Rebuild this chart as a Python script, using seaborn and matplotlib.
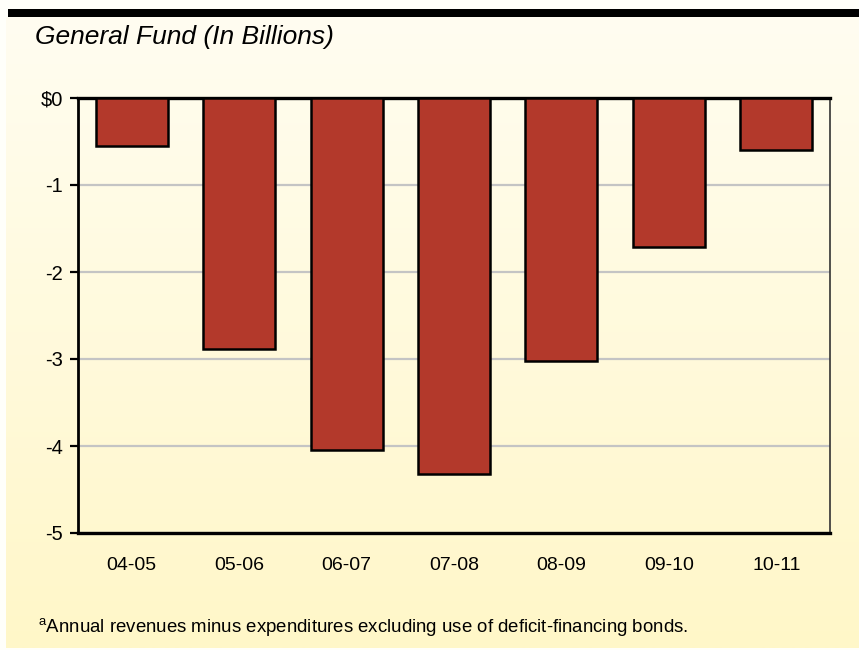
import numpy as np
import pandas as pd
import matplotlib
matplotlib.use("Agg")
import matplotlib.pyplot as plt
import seaborn as sns
from matplotlib.colors import LinearSegmentedColormap

years = ["04-05", "05-06", "06-07", "07-08", "08-09", "09-10", "10-11"]
balance = [-0.55, -2.89, -4.05, -4.32, -3.02, -1.71, -0.60]
ytick_values = [0, -1, -2, -3, -4, -5]
ytick_labels = ["$0", "-1", "-2", "-3", "-4", "-5"]

df = pd.DataFrame({"year": years, "balance": balance})

sns.set_theme(style="white")
plt.rcParams["font.family"] = ["Liberation Sans", "DejaVu Sans"]
plt.rcParams["text.color"] = "black"
plt.rcParams["xtick.color"] = "black"
plt.rcParams["ytick.color"] = "black"
plt.rcParams["xtick.labelcolor"] = "black"
plt.rcParams["ytick.labelcolor"] = "black"

W, H = 859, 650
fig = plt.figure(figsize=(W / 100, H / 100), dpi=100)
fig.patch.set_facecolor("#fffffa")

# pale yellow gradient panel behind everything
bg = fig.add_axes([6 / W, 2 / H, (W - 6) / W, (648 - 17) / H], zorder=0)
cmap = LinearSegmentedColormap.from_list("panel", ["#fffdf1", "#fff7c8"])
bg.imshow(np.linspace(0, 1, 256).reshape(-1, 1), aspect="auto", cmap=cmap,
          extent=[0, 1, 0, 1], origin="upper")
bg.set_axis_off()

# heavy rule across the top
fig.add_artist(plt.Rectangle((8 / W, 1 - 17 / H), 1 - 8 / W, 8 / H,
                             transform=fig.transFigure, color="black", lw=0))

ax = fig.add_axes([78 / W, 1 - 533 / H, (830 - 78) / W, (533 - 98) / H], zorder=1)
ax.set_facecolor("none")
sns.barplot(data=df, x="year", y="balance", color="#b3392b", saturation=1,
            edgecolor="black", linewidth=1.8, width=0.67, ax=ax, zorder=3)

ax.set_ylim(-5, 0)
ax.set_yticks(ytick_values)
ax.set_yticklabels(ytick_labels)
ax.yaxis.grid(True, color="#c4c4c4", linewidth=1.6, zorder=0)
ax.set_axisbelow(True)
ax.set_xlabel("")
ax.set_ylabel("")

ax.tick_params(axis="y", direction="out", length=6, width=1.6, color="black",
               labelcolor="black", labelsize=14.5, pad=5, left=True)
ax.tick_params(axis="x", length=0, labelsize=14, labelcolor="black", pad=17)

for side in ["left", "top", "bottom"]:
    ax.spines[side].set_visible(True)
    ax.spines[side].set_color("black")
ax.spines["left"].set_linewidth(2.0)
ax.spines["top"].set_linewidth(2.4)
ax.spines["bottom"].set_linewidth(2.4)
ax.spines["right"].set_visible(True)
ax.spines["right"].set_color("#333333")
ax.spines["right"].set_linewidth(1.2)

fig.text(35 / W, 1 - 37 / H, "General Fund (In Billions)", fontsize=19,
         fontstyle="italic", ha="left", va="center", color="black")
fig.text(38 / W, 1 - 628 / H,
         r"$^{\mathregular{a}}$Annual revenues minus expenditures excluding use of deficit-financing bonds.",
         fontsize=13.4, ha="left", va="center", color="black")

fig.savefig("out.png", dpi=100)
